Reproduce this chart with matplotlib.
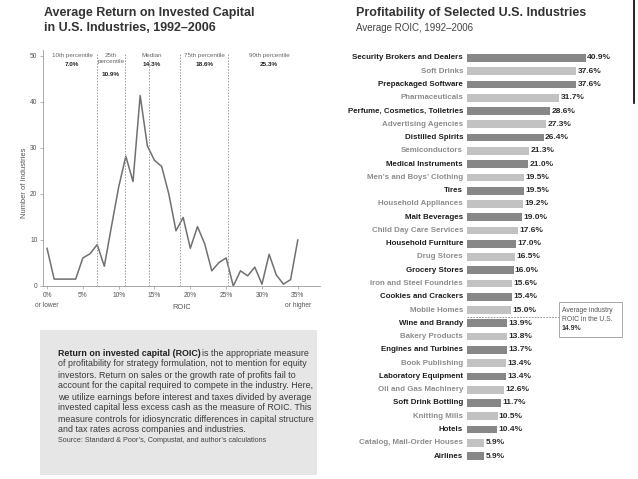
import matplotlib
matplotlib.use("Agg")
import matplotlib.pyplot as plt
from matplotlib.lines import Line2D
from matplotlib.patches import Rectangle

W, H = 638, 479
FONT = ['Liberation Sans Narrow', 'Liberation Sans', 'DejaVu Sans']
plt.rcParams['font.family'] = FONT

# Dados - grafico de linha (numero de industrias por ROIC)
roic_pct = list(range(0, 36))
n_industrias = [8.2, 1.5, 1.5, 1.5, 1.5, 6.1, 7.0, 9.0, 4.3, 13.0,
                21.5, 28.2, 22.7, 41.4, 30.5, 27.3, 26.0, 20.0, 12.0, 14.9,
                8.2, 12.9, 9.2, 3.3, 5.1, 6.1, 0.0, 3.3, 2.2, 4.1,
                0.4, 6.9, 2.4, 0.4, 1.4, 10.0]
percentis = [7.0, 10.9, 14.3, 18.6, 25.3]
nomes_percentis = ["10th percentile", "25th\npercentile", "Median", "75th percentile", "90th percentile"]
pos_rotulos = [3.5, 8.95, 14.6, 21.95, 31.0]
xticks_linha = [0, 5, 10, 15, 20, 25, 30, 35]
xtick_rotulos = ["0%\nor lower", "5%", "10%", "15%", "20%", "25%", "30%", "35%\nor higher"]

# Dados - grafico de barras
industrias = ["Security Brokers and Dealers", "Soft Drinks", "Prepackaged Software",
              "Pharmaceuticals", "Perfume, Cosmetics, Toiletries", "Advertising Agencies",
              "Distilled Spirits", "Semiconductors", "Medical Instruments",
              "Men\u2019s and Boys\u2019 Clothing", "Tires", "Household Appliances",
              "Malt Beverages", "Child Day Care Services", "Household Furniture",
              "Drug Stores", "Grocery Stores", "Iron and Steel Foundries",
              "Cookies and Crackers", "Mobile Homes", "Wine and Brandy",
              "Bakery Products", "Engines and Turbines", "Book Publishing",
              "Laboratory Equipment", "Oil and Gas Machinery", "Soft Drink Bottling",
              "Knitting Mills", "Hotels", "Catalog, Mail-Order Houses", "Airlines"]
roic = [40.9, 37.6, 37.6, 31.7, 28.6, 27.3, 26.4, 21.3, 21.0, 19.5, 19.5, 19.2,
        19.0, 17.6, 17.0, 16.5, 16.0, 15.6, 15.4, 15.0, 13.9, 13.8, 13.7, 13.4,
        13.4, 12.6, 11.7, 10.5, 10.4, 5.9, 5.9]
media = 14.9

texto = ["of profitability for strategy formulation, not to mention for equity",
         "investors. Return on sales or the growth rate of profits fail to",
         "account for the capital required to compete in the industry. Here,",
         "we utilize earnings before interest and taxes divided by average",
         "invested capital less excess cash as the measure of ROIC. This",
         "measure controls for idiosyncratic differences in capital structure",
         "and tax rates across companies and industries."]


def fx(x):
    return x / W


def fy(y):
    return 1 - y / H


def eixo(x0, y0, x1, y1):
    return fig.add_axes([fx(x0), fy(y1), (x1 - x0) / W, (y1 - y0) / H])


fig = plt.figure(figsize=(W / 100, H / 100), dpi=100)

# ---------- grafico de linha ----------
ax = eixo(43, 50, 320, 286)
ax.plot(roic_pct, n_industrias, color='#707070', lw=1.1)
ax.set_xlim(-0.56, 38.1)
ax.set_ylim(0, 51.3)
for p in percentis:
    ax.axvline(p, color='#9a9a9a', ls=(0, (1.5, 1.5)), lw=0.7, ymax=0.985)
for s in ['top', 'right']:
    ax.spines[s].set_visible(False)
for s in ['left', 'bottom']:
    ax.spines[s].set_color('#9a9a9a')
    ax.spines[s].set_linewidth(0.6)
ax.set_yticks([0, 10, 20, 30, 40, 50])
ax.set_xticks(xticks_linha)
ax.set_xticklabels(xtick_rotulos, fontsize=4.8, color='#555555', linespacing=1.6, va='top')
ax.tick_params(axis='both', length=2, width=0.5, color='#9a9a9a', labelsize=4.8,
               labelcolor='#555555', pad=2)
ax.set_xlabel("ROIC", fontsize=5.4, color='#555555', labelpad=-3)

for nome, p, pos in zip(nomes_percentis, percentis, pos_rotulos):
    linhas = nome.count("\n")
    ax.text(pos, 50.6, nome, ha='center', va='top', fontsize=4.5, color='#666666',
            linespacing=1.3, bbox=dict(fc='white', ec='none', pad=0.3) if nome == "Median" else None)
    ax.text(pos, 48.8 - 2.2 * linhas, f"{p:.1f}%", ha='center', va='top', fontsize=4.6,
            color='#222222', fontweight='bold')

fig.text(fx(25), fy(183), "Number of Industries", rotation=90, ha='center', va='center',
         fontsize=5.4, color='#555555')

fig.text(fx(44), fy(13), "Average Return on Invested Capital", ha='left', va='center',
         fontsize=9, fontweight='bold', color='#333333')
fig.text(fx(44), fy(28), "in U.S. Industries, 1992\u20132006", ha='left', va='center',
         fontsize=9, fontweight='bold', color='#333333')

# caixa de texto
fig.patches.append(Rectangle((fx(40), fy(475)), (317 - 40) / W, (475 - 330) / H,
                             transform=fig.transFigure, fc='#e6e6e6', ec='none'))
t1 = fig.text(fx(58), fy(353), "Return on invested capital (ROIC)", ha='left', va='center',
              fontsize=6.4, fontweight='bold', color='#222222')
fig.canvas.draw()
bb = t1.get_window_extent(fig.canvas.get_renderer())
fig.text(bb.x1 / W + 1.5 / W, fy(353), "is the appropriate measure", ha='left', va='center',
         fontsize=6.4, color='#3a3a3a')
for i, linha in enumerate(texto):
    fig.text(fx(58), fy(364 + 11 * i), linha, ha='left', va='center', fontsize=6.4, color='#3a3a3a')
fig.text(fx(58), fy(441), "Source: Standard & Poor\u2019s, Compustat, and author\u2019s calculations",
         ha='left', va='center', fontsize=5.2, color='#444444')

# ---------- grafico de barras ----------
bx = eixo(467, 50, 630, 464)
bx.set_xlim(0, (630 - 467) / 2.91)
bx.set_ylim(30.6, -0.6)
bx.axis('off')
ypos = list(range(len(industrias)))
cores = ['#878787' if i % 2 == 0 else '#c2c2c2' for i in ypos]
bx.barh(ypos, roic, height=0.58, color=cores, edgecolor='none')
for i, (nome, v) in enumerate(zip(industrias, roic)):
    cor = '#1e1e1e' if i % 2 == 0 else '#8c8c8c'
    bx.text(-1.35, i, nome, ha='right', va='center', fontsize=5.7, fontweight='bold',
            color=cor, clip_on=False)
    bx.text(v + 0.45, i, f"{v:.1f}%", ha='left', va='center', fontsize=6,
            fontweight='bold', color='#2a2a2a')
bx.plot([0, 31.5], [19.5, 19.5], color='#888888', lw=0.6, ls=(0, (2, 1.5)), clip_on=False)
fig.patches.append(Rectangle((fx(559), fy(337)), (622 - 559) / W, (337 - 302) / H,
                             transform=fig.transFigure, fc='white', ec='#999999', lw=0.6))
fig.text(fx(562), fy(310), "Average industry", ha='left', va='center',
         fontsize=4.9, color='#555555')
fig.text(fx(562), fy(319.5), "ROIC in the U.S.", ha='left', va='center',
         fontsize=4.9, color='#555555')
fig.text(fx(562), fy(329), "14.9%", ha='left', va='center', fontsize=5.0,
         fontweight='bold', color='#333333')

fig.text(fx(356), fy(13), "Profitability of Selected U.S. Industries", ha='left', va='center',
         fontsize=9, fontweight='bold', color='#333333')
fig.text(fx(356), fy(28), "Average ROIC, 1992\u20132006", ha='left', va='center',
         fontsize=7, color='#444444')

fig.lines.append(Line2D([fx(634), fx(634)], [fy(0), fy(103)], transform=fig.transFigure,
                        color='black', lw=1.2))

fig.savefig("out.png", dpi=100)
